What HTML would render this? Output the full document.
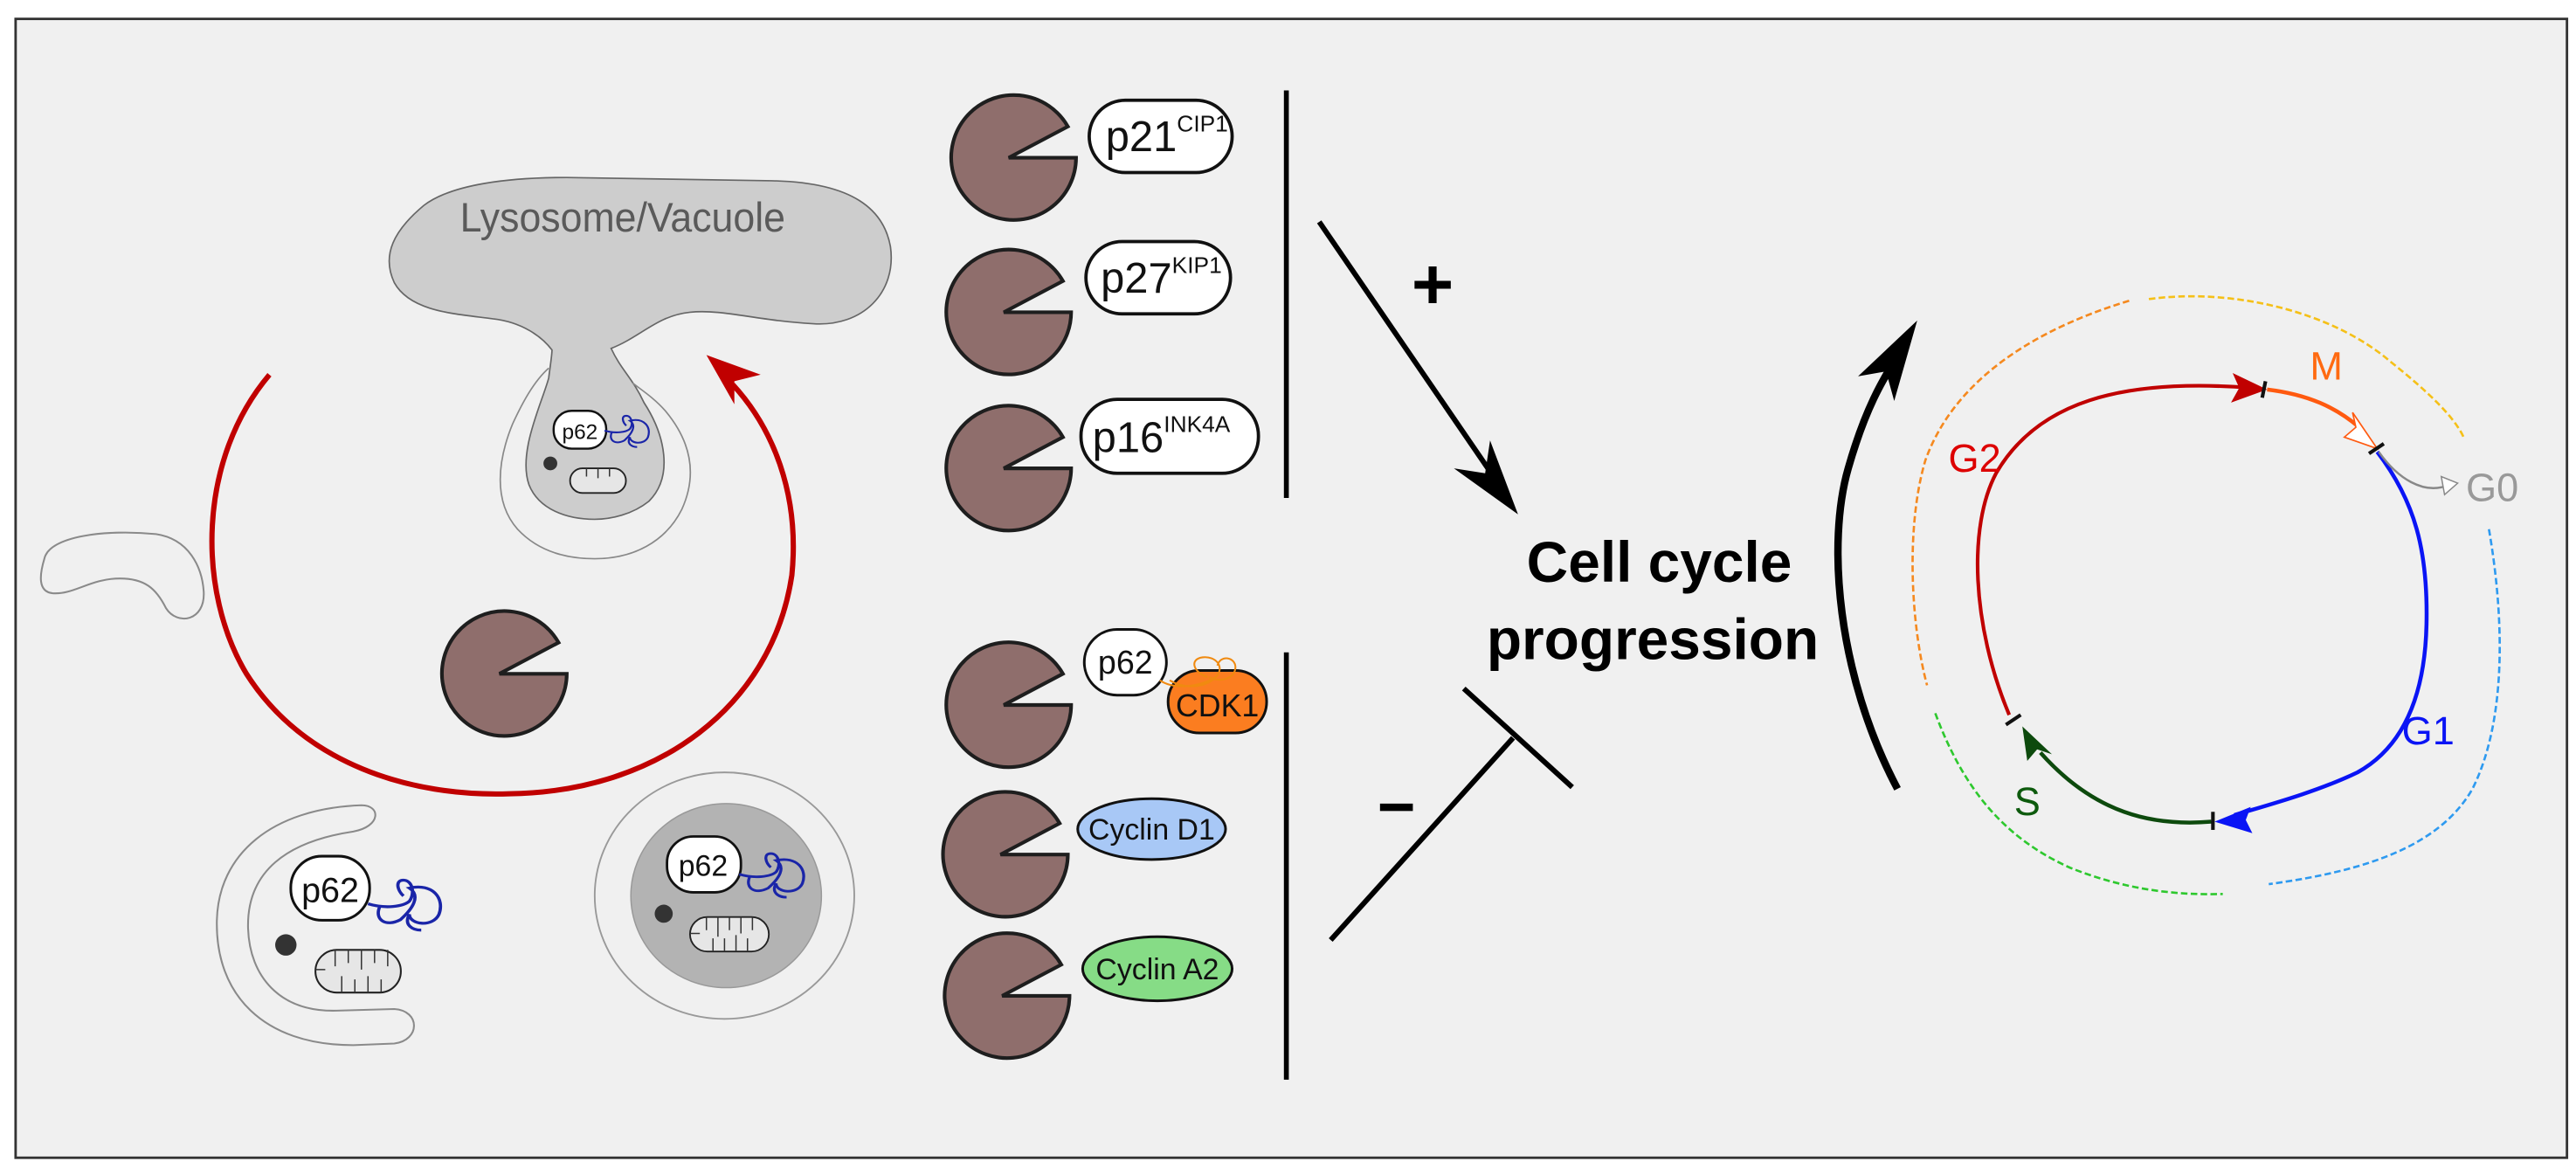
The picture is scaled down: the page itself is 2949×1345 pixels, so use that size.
<!DOCTYPE html>
<html><head><meta charset="utf-8"><style>
html,body{margin:0;padding:0;background:#fff;}
svg{display:block;}
text{font-family:"Liberation Sans","DejaVu Sans",sans-serif;}
</style></head><body>
<svg width="2949" height="1345" viewBox="0 0 1568 715" preserveAspectRatio="none" xmlns="http://www.w3.org/2000/svg">
<defs>
<path id="pac" d="M-3,0 L33,-19 A38 38 0 1 0 38,0 Z" fill="#8f6e6c" stroke="#1e1e1e" stroke-width="2.2" stroke-linejoin="miter"/>
<path id="sq" d="M0,0 C6,2 12,1 14,-1 C16,-4 15,-9 12,-9 C9,-9 10,-5 12,-3 M4,1 C2,6 6,9 11,6 C15,2 18,-3 14,-6 C22,-8 26,-2 24,4 C22,9 14,8 14,4 C12,8 15,10 18,10" fill="none" stroke="#1a25a8" stroke-width="1.1"/>
</defs>
<rect x="0" y="0" width="1568" height="715" fill="#fff"/>
<rect x="9.5" y="11.5" width="1553" height="693" fill="#f0f0f0" stroke="#333" stroke-width="1.5"/>

<!-- lysosome -->
<path d="M336,213 C330,205 318,196 300,194 C278,191 250,190 240,172 C232,155 240,140 258,125 C275,112 310,108 345,108 L470,110 C520,111 538,128 542,150 C546,178 525,199 495,197 C460,195 440,188 420,190 C400,192 390,205 372,212 C378,225 385,230 392,245 C405,265 410,290 395,305 C385,313 372,316 362,316 C345,316 328,310 322,295 C315,275 330,245 334,230 C335,222 336,216 336,213 Z" fill="#cdcdcd" stroke="#666" stroke-width="0.9"/>
<path d="M334,224 C325,232 318,245 312,258 C303,280 300,305 315,322 C328,336 345,340 362,340 C385,340 405,330 415,310 C425,288 420,268 405,250 C398,242 390,237 385,233" fill="none" stroke="#888" stroke-width="0.9"/>
<text x="280" y="141" font-size="25" fill="#5a5a5a" textLength="198" lengthAdjust="spacingAndGlyphs">Lysosome/Vacuole</text>
<rect x="337" y="250" width="32" height="23" rx="11" fill="#fff" stroke="#111" stroke-width="1.3"/>
<text x="353" y="267" font-size="13" text-anchor="middle" fill="#111">p62</text>
<use href="#sq" transform="translate(368,262) scale(1.1,1)"/>
<circle cx="335" cy="282" r="4.2" fill="#333"/>
<rect x="347" y="285" width="34" height="15" rx="7.5" fill="#e6e6e6" stroke="#222" stroke-width="1"/>
<path d="M357,285v5 M364,285v6 M371,285v5" stroke="#333" stroke-width="0.8"/>

<!-- red arc -->
<path d="M164,228 C120,280 120,360 150,410 C185,465 250,485 310,483 C400,482 470,430 482,350 C487,300 470,260 446,234" fill="none" stroke="#c00000" stroke-width="3.2"/>
<path d="M430,216 L463,228 L447,232 L447,246 Z" fill="#c00000"/>

<!-- bean -->
<path d="M27,340 C30,326 65,322 95,325 C115,328 123,345 124,360 C125,378 108,381 101,370 C95,358 88,352 73,352 C55,352 45,362 32,361 C23,360 24,350 27,340 Z" fill="none" stroke="#8a8a8a" stroke-width="1.1"/>

<!-- central pacman -->
<use href="#pac" transform="translate(307,410) scale(1)"/>

<!-- phagophore -->
<path d="M220,490 C165,492 133,520 132,560 C131,605 160,636 215,636 L240,635 C256,633 256,615 240,614 L205,615 C170,616 152,594 151,565 C150,530 175,512 215,506 C232,503 232,490 220,490 Z" fill="none" stroke="#8a8a8a" stroke-width="1.1"/>
<rect x="177" y="521" width="48" height="39" rx="19" fill="#fff" stroke="#111" stroke-width="1.6"/>
<text x="201" y="549" font-size="21" text-anchor="middle" fill="#111">p62</text>
<use href="#sq" transform="translate(224,550) scale(1.8,1.6)"/>
<circle cx="174" cy="575" r="6.5" fill="#333"/>
<rect x="192" y="578" width="52" height="26" rx="13" fill="#e6e6e6" stroke="#222" stroke-width="1.1"/>
<path d="M204,578v10 M212,578v8 M220,578v12 M228,578v8 M236,578v10 M208,604v-10 M216,604v-8 M224,604v-10 M232,604v-8 M192,590h6" stroke="#333" stroke-width="0.8"/>

<!-- autophagosome -->
<ellipse cx="441" cy="545" rx="79" ry="75" fill="none" stroke="#999" stroke-width="1"/>
<ellipse cx="442" cy="545" rx="58" ry="56" fill="#b3b3b3" stroke="#999" stroke-width="0.8"/>
<rect x="406" y="509" width="45" height="34" rx="16" fill="#fff" stroke="#111" stroke-width="1.5"/>
<text x="428" y="533" font-size="18" text-anchor="middle" fill="#111">p62</text>
<use href="#sq" transform="translate(450,532) scale(1.6,1.4)"/>
<circle cx="404" cy="556" r="5.5" fill="#333"/>
<rect x="420" y="558" width="48" height="21" rx="10.5" fill="#e6e6e6" stroke="#222" stroke-width="1"/>
<path d="M430,558v8 M437,558v12 M444,558v8 M451,558v10 M458,558v8 M434,579v-8 M441,579v-8 M448,579v-10 M455,579v-8 M420,568h6" stroke="#333" stroke-width="0.8"/>

<!-- pacmen column -->
<use href="#pac" transform="translate(617,96)"/>
<use href="#pac" transform="translate(614,190)"/>
<use href="#pac" transform="translate(614,285)"/>
<use href="#pac" transform="translate(614,429)"/>
<use href="#pac" transform="translate(612,520)"/>
<use href="#pac" transform="translate(613,606)"/>

<rect x="663" y="61" width="87" height="44" rx="22" fill="#fff" stroke="#111" stroke-width="2"/>
<text x="673" y="92" font-size="26" fill="#111">p21<tspan font-size="14" dy="-12">CIP1</tspan></text>
<rect x="661" y="147" width="88" height="44" rx="22" fill="#fff" stroke="#111" stroke-width="2"/>
<text x="670" y="178" font-size="26" fill="#111">p27<tspan font-size="14" dy="-12">KIP1</tspan></text>
<rect x="658" y="243" width="108" height="45" rx="22" fill="#fff" stroke="#111" stroke-width="2"/>
<text x="665" y="275" font-size="26" fill="#111">p16<tspan font-size="14" dy="-12">INK4A</tspan></text>

<line x1="783" y1="55" x2="783" y2="303" stroke="#000" stroke-width="3"/>
<line x1="783" y1="397" x2="783" y2="657" stroke="#000" stroke-width="3"/>

<rect x="660" y="383" width="50" height="40" rx="20" fill="#fff" stroke="#111" stroke-width="1.6"/>
<text x="685" y="410" font-size="20" text-anchor="middle" fill="#111">p62</text>
<rect x="711" y="408" width="60" height="38" rx="19" fill="#fb7d20" stroke="#111" stroke-width="1.6"/>
<text x="741" y="436" font-size="19" text-anchor="middle" fill="#111">CDK1</text>
<path d="M706,414 C715,420 730,418 740,412 C746,406 740,399 732,400 C724,401 726,409 735,412 M736,412 C744,416 752,412 752,406 C752,400 743,398 741,405 M740,412 C735,418 722,420 712,414" fill="none" stroke="#f08a10" stroke-width="1.1"/>

<ellipse cx="701" cy="504.5" rx="45" ry="18.5" fill="#a8c8f6" stroke="#111" stroke-width="1.6"/>
<text x="701" y="511" font-size="18" text-anchor="middle" fill="#111">Cyclin D1</text>
<ellipse cx="704.5" cy="589.5" rx="45.5" ry="19.5" fill="#86dc86" stroke="#111" stroke-width="1.6"/>
<text x="704.5" y="596" font-size="18" text-anchor="middle" fill="#111">Cyclin A2</text>

<!-- + arrow -->
<line x1="803" y1="135" x2="918" y2="303" stroke="#000" stroke-width="3.2"/>
<path d="M924,313 L885,285 L904,288 L907,268 Z" fill="#000"/>
<text x="872" y="188" font-size="44" font-weight="bold" text-anchor="middle" fill="#000">+</text>
<!-- T bar -->
<line x1="810" y1="572" x2="921" y2="449" stroke="#000" stroke-width="3.2"/>
<line x1="891" y1="419" x2="957" y2="479" stroke="#000" stroke-width="3.2"/>
<rect x="840" y="489" width="20" height="4.5" fill="#000"/>

<text x="1010" y="354" font-size="35" font-weight="bold" text-anchor="middle" fill="#000">Cell cycle</text>
<text x="1006" y="401" font-size="35" font-weight="bold" text-anchor="middle" fill="#000">progression</text>

<!-- big black arc -->
<path d="M1155,480 C1118,410 1112,330 1125,285 C1135,250 1145,232 1158,212" fill="none" stroke="#000" stroke-width="4.5"/>
<path d="M1167,195 L1131,229 L1148,226 L1153,244 Z" fill="#000"/>

<!-- dotted arcs -->
<g fill="none" stroke-width="1.4" stroke-dasharray="4,2">
<path d="M1296,183 C1240,200 1190,230 1172,280 C1160,320 1163,380 1173,417" stroke="#f5891f"/>
<path d="M1308,182 C1360,175 1420,190 1455,220 C1480,240 1495,255 1500,267" stroke="#f5c018"/>
<path d="M1515,322 C1525,380 1525,440 1505,480 C1485,515 1440,530 1381,538" stroke="#2e9af0"/>
<path d="M1178,434 C1195,480 1220,510 1260,528 C1290,540 1320,545 1353,544" stroke="#2ec82e"/>
</g>

<!-- cycle -->
<path d="M1223,435 C1200,380 1198,320 1215,288 C1240,245 1290,230 1370,236" fill="none" stroke="#c00000" stroke-width="2.2"/>
<path d="M1380,237 L1359,227 L1363,236 L1358,245 Z" fill="#c00000"/>
<path d="M1380,237 C1405,240 1422,248 1436,260" fill="none" stroke="#ff5a10" stroke-width="2.4"/>
<path d="M1447,273 L1427,266 L1434,260 L1432,251 Z" fill="#fff" stroke="#ff5a10" stroke-width="0.9"/>
<path d="M1447,275 C1470,305 1478,335 1477,380 C1476,425 1462,455 1435,470 C1410,482 1380,490 1360,496" fill="none" stroke="#0a14f5" stroke-width="2.4"/>
<path d="M1348,500 L1370,491 L1367,499 L1371,507 Z" fill="#0a14f5"/>
<path d="M1346,500 C1310,503 1275,495 1242,458" fill="none" stroke="#0d4a0d" stroke-width="2.4"/>
<path d="M1231,442 L1234,463 L1240,456 L1249,459 Z" fill="#0d4a0d"/>
<path d="M1448,275 C1460,292 1475,300 1488,296" fill="none" stroke="#888" stroke-width="1.3"/>
<path d="M1496,294 L1486,290 L1488,301 Z" fill="#fff" stroke="#888" stroke-width="0.8"/>
<g stroke="#111" stroke-width="2.2">
<line x1="1379" y1="232" x2="1377" y2="242"/>
<line x1="1442" y1="276" x2="1451" y2="270"/>
<line x1="1347" y1="494" x2="1347" y2="505"/>
<line x1="1221" y1="441" x2="1230" y2="435"/>
</g>
<text x="1416" y="231" font-size="24" text-anchor="middle" fill="#ff6a10">M</text>
<text x="1202" y="287" font-size="24" text-anchor="middle" fill="#dd0000">G2</text>
<text x="1517" y="305" font-size="24" text-anchor="middle" fill="#999">G0</text>
<text x="1478" y="453" font-size="24" text-anchor="middle" fill="#0a14f5">G1</text>
<text x="1234" y="496" font-size="24" text-anchor="middle" fill="#0d5a0d">S</text>
</svg>
</body></html>
